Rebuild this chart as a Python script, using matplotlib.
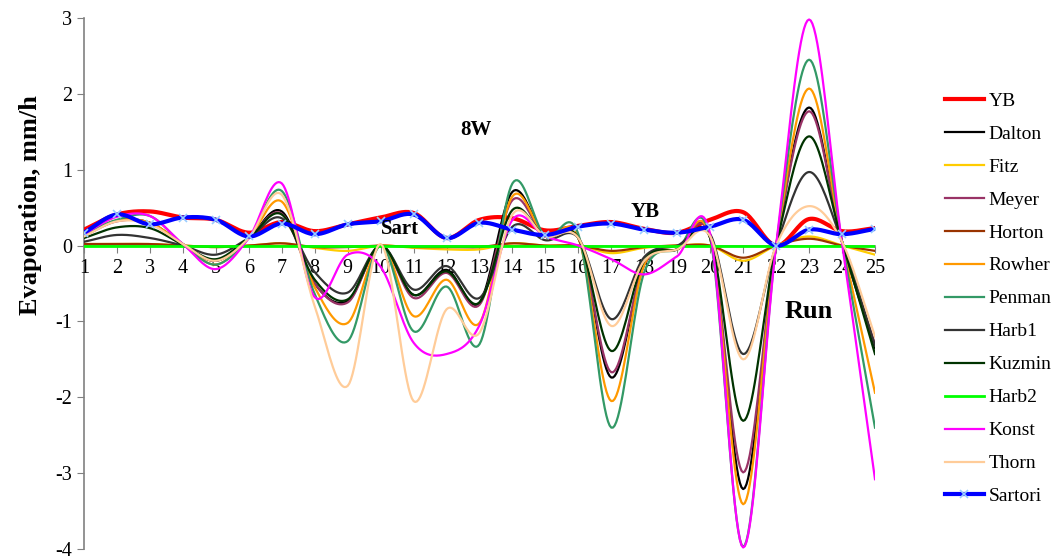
import numpy as np
import matplotlib
matplotlib.use('Agg')
import matplotlib.pyplot as plt

plt.rcParams['font.family'] = ['Liberation Serif', 'DejaVu Serif']
plt.rcParams['axes.unicode_minus'] = False

# Runs 1..25
runs = list(range(1, 26))

yb      = [0.21, 0.41, 0.45, 0.37, 0.34, 0.17, 0.31, 0.19, 0.28, 0.37, 0.43, 0.10, 0.34, 0.36, 0.20, 0.26, 0.31, 0.22, 0.17, 0.34, 0.44, 0.00, 0.35, 0.19, 0.23]
dalton  = [0.13, 0.33, 0.30, 0.02, -0.20, 0.10, 0.45, -0.50, -0.73, 0.00, -0.65, -0.32, -0.75, 0.71, 0.12, 0.10, -1.74, -0.25, -0.05, 0.10, -3.21, 0.00, 1.82, 0.05, -1.35]
fitz    = [0.02, 0.02, 0.02, 0.00, -0.02, 0.00, 0.03, -0.03, -0.07, 0.00, -0.03, -0.05, -0.05, 0.03, 0.00, 0.00, -0.10, -0.03, 0.00, 0.00, -0.20, 0.00, 0.12, 0.00, -0.12]
meyer   = [0.13, 0.32, 0.30, 0.02, -0.20, 0.10, 0.42, -0.50, -0.75, 0.00, -0.69, -0.36, -0.78, 0.60, 0.12, 0.10, -1.67, -0.25, -0.05, 0.10, -2.99, 0.00, 1.77, 0.05, -1.30]
horton  = [0.02, 0.02, 0.02, 0.00, -0.02, 0.00, 0.03, -0.02, -0.02, 0.00, -0.02, -0.02, -0.02, 0.03, 0.00, 0.00, -0.07, -0.02, 0.00, 0.00, -0.16, 0.00, 0.09, 0.00, -0.07]
rowher  = [0.14, 0.33, 0.30, 0.02, -0.25, 0.10, 0.58, -0.55, -1.02, 0.00, -0.93, -0.45, -1.02, 0.65, 0.12, 0.10, -2.05, -0.25, -0.05, 0.10, -3.41, 0.00, 2.07, 0.05, -1.94]
penman  = [0.15, 0.34, 0.39, 0.02, -0.25, 0.10, 0.72, -0.64, -1.26, 0.00, -1.13, -0.54, -1.30, 0.82, 0.12, 0.15, -2.40, -0.35, -0.05, 0.10, -3.97, 0.00, 2.45, 0.05, -2.40]
harb1   = [0.05, 0.14, 0.10, 0.00, -0.12, 0.10, 0.36, -0.35, -0.62, 0.00, -0.58, -0.27, -0.69, 0.25, 0.07, 0.10, -0.97, -0.15, 0.00, 0.15, -1.43, 0.00, 0.97, 0.05, -1.32]
kuzmin  = [0.10, 0.24, 0.23, 0.01, -0.18, 0.10, 0.41, -0.45, -0.71, 0.00, -0.65, -0.34, -0.75, 0.47, 0.12, 0.10, -1.39, -0.20, -0.05, 0.10, -2.31, 0.00, 1.44, 0.05, -1.43]
harb2   = [0.00] * 25
konst   = [0.15, 0.38, 0.39, 0.02, -0.31, 0.10, 0.82, -0.68, -0.12, -0.28, -1.28, -1.43, -1.05, 0.34, 0.12, 0.00, -0.18, -0.38, -0.14, 0.15, -3.98, 0.00, 2.98, 0.03, -3.08]
thorn   = [0.12, 0.32, 0.28, 0.02, -0.20, 0.10, 0.67, -0.80, -1.85, 0.02, -2.05, -0.84, -1.15, 0.41, 0.12, 0.10, -1.06, -0.20, -0.05, 0.12, -1.50, 0.00, 0.52, 0.05, -1.20]
sartori = [0.17, 0.41, 0.28, 0.37, 0.34, 0.12, 0.29, 0.15, 0.28, 0.32, 0.41, 0.10, 0.30, 0.21, 0.14, 0.25, 0.29, 0.21, 0.17, 0.25, 0.34, 0.00, 0.21, 0.15, 0.22]

series = [
    ('YB', yb, '#FF0000', 3.0),
    ('Dalton', dalton, '#000000', 1.6),
    ('Fitz', fitz, '#FFCC00', 1.6),
    ('Meyer', meyer, '#993366', 1.6),
    ('Horton', horton, '#993300', 1.6),
    ('Rowher', rowher, '#FF9900', 1.6),
    ('Penman', penman, '#339966', 1.6),
    ('Harb1', harb1, '#333333', 1.6),
    ('Kuzmin', kuzmin, '#003300', 1.6),
    ('Harb2', harb2, '#00FF00', 2.0),
    ('Konst', konst, '#FF00FF', 1.6),
    ('Thorn', thorn, '#FFCC99', 1.6),
    ('Sartori', sartori, '#0000FF', 3.0),
]

NSUB = 20


def smooth(x, y, n=NSUB):
    # Catmull-Rom spline through the points (Excel-like smoothed line)
    x = np.asarray(x, float)
    y = np.asarray(y, float)
    px = np.concatenate([[2 * x[0] - x[1]], x, [2 * x[-1] - x[-2]]])
    py = np.concatenate([[2 * y[0] - y[1]], y, [2 * y[-1] - y[-2]]])
    xs, ys = [], []
    t = np.linspace(0, 1, n, endpoint=False)
    for i in range(1, len(px) - 2):
        for p, out in ((px, xs), (py, ys)):
            p0, p1, p2, p3 = p[i - 1], p[i], p[i + 1], p[i + 2]
            out.append(0.5 * (2 * p1 + (-p0 + p2) * t + (2 * p0 - 5 * p1 + 4 * p2 - p3) * t ** 2
                              + (-p0 + 3 * p1 - 3 * p2 + p3) * t ** 3))
    xs.append([x[-1]])
    ys.append([y[-1]])
    return np.concatenate(xs), np.concatenate(ys)


fig = plt.figure(figsize=(10.51, 5.59), dpi=100)
ax = fig.add_axes([84 / 1051, 1 - 549 / 559, (875 - 84) / 1051, (549 - 18) / 559])

for name, vals, color, lw in series:
    sx, sy = smooth(runs, vals)
    if name == 'Sartori':
        ax.plot(sx, sy, color=color, lw=lw, label=name, marker='x', markersize=6,
                markeredgecolor='#99CCFF', markeredgewidth=1.2,
                markevery=list(range(0, len(sx), NSUB)), zorder=3)
    else:
        ax.plot(sx, sy, color=color, lw=lw, label=name, zorder=3)

ax.set_xlim(1, 25)
ax.set_ylim(-4, 3)
ax.set_xticks(runs)
ax.set_yticks(range(-4, 4))
ax.spines['top'].set_visible(False)
ax.spines['right'].set_visible(False)
ax.spines['bottom'].set_position(('data', 0))
for s in ('left', 'bottom'):
    ax.spines[s].set_color('#808080')
    ax.spines[s].set_linewidth(1.2)
    ax.spines[s].set_zorder(1)
ax.tick_params(axis='both', colors='#808080', labelcolor='black', labelsize=14.5, length=5)
ax.tick_params(axis='x', pad=5)

ax.set_ylabel('Evaporation, mm/h', fontsize=19, fontweight='bold')
ax.yaxis.set_label_coords(-0.053, 0.648)
ax.text(809, 559 - 311, 'Run', fontsize=19, fontweight='bold', ha='center', va='center',
        transform=None)
for txt, px, py in (('8W', 476, 130), ('Sart', 400, 229), ('YB', 645, 212)):
    ax.text(px, 559 - py, txt, fontsize=15, fontweight='bold', ha='center', va='center',
            transform=None)

fig.legend(loc='upper left', bbox_to_anchor=(945 / 1051, 1 - 92 / 559), frameon=False,
           fontsize=14, handlelength=2.0, labelspacing=0.79, handletextpad=0.25,
           borderpad=0, borderaxespad=0)

fig.savefig('out.png', dpi=100)
